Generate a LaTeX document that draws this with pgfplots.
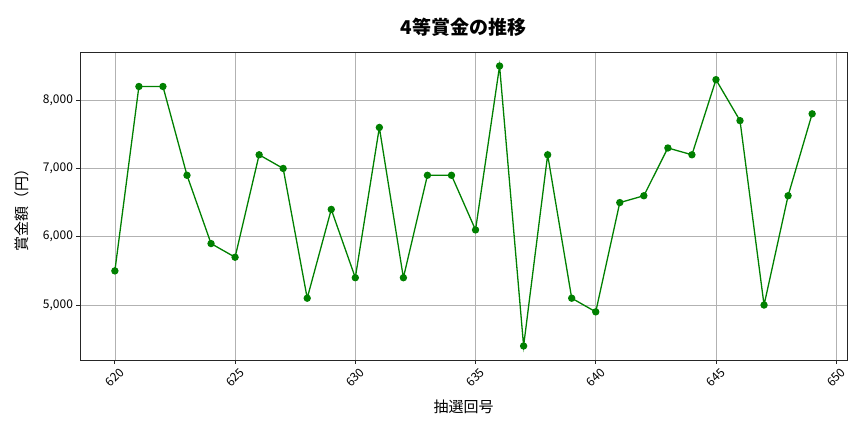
\documentclass[border=0pt]{standalone}
\usepackage{pgfplots}
\pgfplotsset{compat=1.18}
\usepackage{fontspec}
\setmainfont{Noto Sans CJK JP}
\definecolor{mplgreen}{RGB}{0,128,0}
\begin{document}
\begin{tikzpicture}
\useasboundingbox (-80pt,-72pt) rectangle (784pt,360pt);
\begin{axis}[
  at={(0pt,0pt)}, anchor=south west,
  scale only axis, width=767pt, height=308pt,
  xmin=618.55, xmax=650.45, ymin=4195, ymax=8705,
  xtick={620,625,...,650},
  ytick={5000,6000,7000,8000},
  grid=major,
  grid style={color=black!30, line width=0.6pt},
  axis line style={line width=0.8pt, black!85},
  tick style={black!85, line width=0.8pt},
  tick align=outside, tick pos=left,
  major tick length=3.5pt,
  /pgf/number format/assume math mode=true,
  /pgf/number format/.cd, 1000 sep={,}, set thousands separator={,}, /pgfplots/.cd,
  scaled y ticks=false,
  ticklabel style={font=\fontsize{12}{13}\selectfont},
  xticklabel style={rotate=45, anchor=center},
  xticklabel shift=14pt,
  title={\bfseries 4等賞金の推移},
  title style={font=\fontsize{19}{21}\selectfont, yshift=6pt},
  xlabel={抽選回号},
  ylabel={賞金額（円）},
  label style={font=\fontsize{15}{17}\selectfont},
  xlabel style={yshift=-4pt},
  ylabel style={yshift=7pt},
]
\addplot[color=mplgreen, line width=1.3pt, mark=*, mark size=3pt, mark options={fill=mplgreen, draw=mplgreen}] coordinates {
(620,5500) (621,8200) (622,8200) (623,6900) (624,5900) (625,5700)
(626,7200) (627,7000) (628,5100) (629,6400) (630,5400) (631,7600)
(632,5400) (633,6900) (634,6900) (635,6100) (636,8500) (637,4400)
(638,7200) (639,5100) (640,4900) (641,6500) (642,6600) (643,7300)
(644,7200) (645,8300) (646,7700) (647,5000) (648,6600) (649,7800)
};
\end{axis}
\end{tikzpicture}
\end{document}
